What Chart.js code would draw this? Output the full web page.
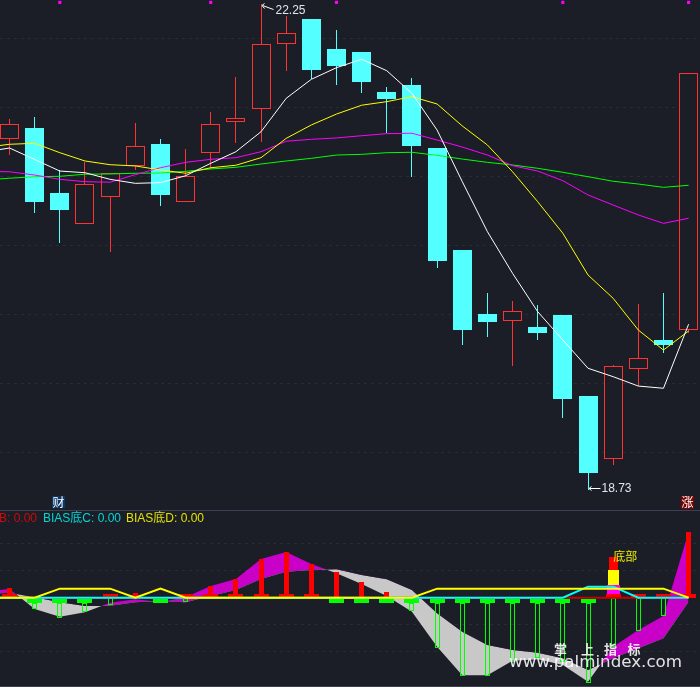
<!DOCTYPE html>
<html>
<head>
<meta charset="utf-8">
<title>K线与BIAS底指标</title>
<script src="https://cdn.jsdelivr.net/npm/chart.js@4/dist/chart.umd.min.js"></script>
<style>
html,body{margin:0;padding:0;background:#1b1e27;width:700px;height:687px;overflow:hidden}
#wrap{position:relative;width:700px;height:687px}
canvas{position:absolute;left:0;display:block}
#main{top:0}
#sub{top:510px}
.rule{position:absolute;left:0;width:700px;height:1px;background:#394153}
</style>
</head>
<body>
<div id="wrap">
<canvas id="main" width="700" height="510"></canvas>
<canvas id="sub" width="700" height="177"></canvas>
<div class="rule" style="top:510px"></div>
<div class="rule" style="top:686px"></div>
</div>
<script>
// Session index. Position 0 is the session just off the left edge (only its averages are known).
const days = [0,1,2,3,4,5,6,7,8,9,10,11,12,13,14,15,16,17,18,19,20,21,22,23,24,25,26,27,28];

const opens  = [null,21.268,21.350,20.879,20.652,20.848,21.077,21.234,20.812,21.167,21.391,21.486,21.957,22.140,21.920,21.901,21.611,21.662,21.205,20.466,20.002,19.954,19.908,19.995,19.408,18.954,19.601,19.814,19.888];
const highs  = [null,21.415,21.430,21.046,21.106,21.022,21.386,21.270,21.198,21.466,21.720,22.250,22.162,22.140,22.060,21.901,21.645,21.712,21.205,20.466,20.154,20.096,20.067,19.995,19.408,19.633,20.075,20.154,21.746];
const lows   = [null,21.154,20.736,20.519,20.652,20.454,21.046,20.785,20.812,21.051,21.241,21.249,21.765,21.703,21.662,21.604,21.312,20.995,20.336,19.778,19.836,19.625,19.814,19.249,18.730,18.908,19.480,19.720,19.864];
const closes = [null,21.377,20.816,20.756,20.942,21.022,21.217,20.865,21.000,21.377,21.420,21.957,22.036,21.772,21.801,21.685,21.560,21.220,20.386,19.886,19.944,20.022,19.864,19.386,18.850,19.623,19.681,19.778,21.746];

const ma5  = [21.176,21.205,21.122,21.038,21.026,20.978,20.949,20.954,21.004,21.094,21.178,21.323,21.565,21.703,21.787,21.848,21.765,21.601,21.335,20.962,20.599,20.297,20.019,19.814,19.609,19.548,19.480,19.464,19.928];
const ma10 = [21.209,21.232,21.239,21.171,21.111,21.084,21.075,21.046,21.022,21.062,21.080,21.135,21.275,21.372,21.451,21.515,21.541,21.577,21.524,21.365,21.227,21.033,20.816,20.587,20.285,20.116,19.886,19.741,19.879];
const ma20 = [21.035,21.033,21.009,20.978,20.961,20.957,21.012,21.062,21.101,21.123,21.135,21.178,21.254,21.268,21.278,21.294,21.309,21.312,21.263,21.212,21.154,21.077,21.038,20.968,20.865,20.792,20.720,20.659,20.696];
const ma60 = [20.973,20.986,20.997,21.000,21.015,21.017,21.022,21.024,21.036,21.053,21.065,21.089,21.111,21.130,21.154,21.159,21.171,21.174,21.152,21.125,21.101,21.082,21.058,21.029,20.997,20.964,20.944,20.920,20.935];
const flagMarks = [null,null,null,22.26,null,null,null,null,null,22.26,null,null,null,null,22.26,null,null,null,null,null,null,null,null,22.26,null,null,null,null,22.26];

const priceTicks = [22,21.5,21,20.5,20,19.5,19];
const priceMin = 18.5819, priceMax = 22.2775;

// Lower indicator, in indicator units
const biasFast = [18,26,-34,-57,-44,-15,-5,-13,1,35,56,116,137,101,73,41,5,-42,-147,-233,-233,-189,-185,-202,-252,-147,-97,-55,198];
const biasSlow = [11,15,1,-14,-25,-24,-14,-10,-14,5,23,56,78,83,85,68,55,23,-47,-102,-142,-157,-165,-182,-217,-182,-152,-122,-12];
const biasB = [0,0,0,0,0,0,0,0,0,0,0,0,0,0,0,0,0,0,0,0,0,0,0,0,0,0,0,0,0];
const biasC = [0,0,0,0,0,0,0,0,0,0,0,0,0,0,0,0,0,0,0,0,0,0,0,0,33,33,0,0,0];
const biasD = [0,0,0,27,27,27,0,27,0,0,0,0,0,0,0,0,0,0,27,27,27,27,27,27,27,27,27,27,0];
const redStick   = [null,28,null,null,null,null,13,null,null,35,56,116,137,101,77,46,17,null,null,null,null,null,null,null,null,null,null,null,197];
const redCap     = [null,11,null,null,null,11,7,null,11,11,11,11,11,11,null,null,null,null,null,null,null,null,null,null,null,11,11,11,11];
const greenCap   = [null,null,1,1,1,null,null,1,null,null,null,null,null,null,1,1,1,1,1,1,1,1,1,1,1,null,null,null,null];
const greenStick = [null,null,-34,-60,-42,-22,null,null,-12,null,null,null,null,null,null,null,null,-39,-150,-234,-234,-194,-180,-192,-257,-147,-99,-54,null];
const signalBase = [null,null,null,null,null,null,null,null,null,null,null,null,null,null,null,null,null,null,null,null,null,null,null,null,null,38,null,null,null];
const signalMid  = [null,null,null,null,null,null,null,null,null,null,null,null,null,null,null,null,null,null,null,null,null,null,null,null,null,83,null,null,null];
const signalTop  = [null,null,null,null,null,null,null,null,null,null,null,null,null,null,null,null,null,null,null,null,null,null,null,null,null,121,null,null,null];
const indicatorTicks = [162,81,-81,-162];
const indicatorMin = -268, indicatorMax = 263;

const legendB = 'B: 0.00', legendC = 'BIAS底C: 0.00', legendD = 'BIAS底D: 0.00';
const signalText = '底部', highText = '22.25', lowText = '18.73';
const watermarkChars = ['掌','上','指','标'], watermarkUrl = 'www.palmindex.com';

const BG = '#1b1e27', RED = '#ff3232', CYAN = '#54ffff';
const xMin = 0.6211, xMax = 28.4530;

const pts = (arr, f) => arr.map((v,k)=> v==null ? null : {x:days[k], y:f?f(v,k):v}).filter(Boolean);
const candleIdx = opens.map((v,k)=>v==null?-1:k).filter(k=>k>=0);
const upIdx = candleIdx.filter(k=>closes[k]>=opens[k]);
const dnIdx = candleIdx.filter(k=>closes[k]<opens[k]);
const barPts = (idx, lo, hi) => idx.map(k=>({x:days[k], y:[lo[k],hi[k]]}));

const snapBars = {
  id:'snapBars',
  beforeDatasetsDraw(chart){
    chart.getSortedVisibleDatasetMetas().forEach(m=>{
      if(m.type!=='bar') return;
      m.data.forEach(el=>{
        el.x = Math.floor(el.x)+0.5;
        el.y = Math.round(el.y);
        el.base = Math.round(el.base);
      });
    });
  }
};

function barSet(data, w, color, border, order){
  return {type:'bar', data, grouped:false, barPercentage:1, categoryPercentage:1,
    maxBarThickness:w, barThickness:w, backgroundColor:color, borderColor:border||color,
    borderWidth:border?1:0, borderSkipped:false, inflateAmount:0, order};
}
function lineSet(arr, color, width, order){
  return {type:'line', data:pts(arr), borderColor:color, borderWidth:width, pointRadius:0,
    tension:0, fill:false, order, spanGaps:false};
}
function axes(min,max,ticks){
  return {
    x:{type:'linear',min:xMin,max:xMax,display:false,offset:false},
    y:{type:'linear',min,max,position:'left',
      afterBuildTicks(s){s.ticks=ticks.map(value=>({value}));},
      ticks:{display:false},
      grid:{color:'#292c35',lineWidth:1,drawTicks:false,tickLength:0},
      border:{display:false,dash:[3,4]}}
  };
}
const base = {responsive:false,animation:false,maintainAspectRatio:false,
  layout:{padding:0,autoPadding:false},events:[],
  plugins:{legend:{display:false},tooltip:{enabled:false}}};

const mainText = {
  id:'mainText',
  afterDraw(chart){
    const c=chart.ctx, X=chart.scales.x, Y=chart.scales.y;
    const hiK=highs.indexOf(Math.max(...highs.filter(v=>v!=null)));
    const loK=lows.indexOf(Math.min(...lows.filter(v=>v!=null)));
    const hx=Math.floor(X.getPixelForValue(days[hiK]))+0.5, hy=Math.round(Y.getPixelForValue(highs[hiK]))+1.5;
    const lx=Math.floor(X.getPixelForValue(days[loK]))+0.5, ly=Math.round(Y.getPixelForValue(lows[loK]))-1.5;
    c.save();
    c.strokeStyle='#ffffff'; c.lineWidth=1;
    c.beginPath();
    c.moveTo(hx+1,hy); c.lineTo(hx+12,hy+4);
    c.moveTo(hx+3,hy-2); c.lineTo(hx+0.5,hy); c.lineTo(hx+3,hy+3);
    c.moveTo(lx+1,ly); c.lineTo(lx+12,ly);
    c.moveTo(lx+3,ly-2); c.lineTo(lx+0.5,ly); c.lineTo(lx+3,ly+2);
    c.stroke();
    c.font='12px "Liberation Sans"';
    c.fillStyle='#dfe6ee'; c.textBaseline='alphabetic'; c.textAlign='left';
    c.fillText(highText,hx+14,14);
    c.fillText(lowText,lx+13,492);
    c.fillStyle='#0b3766'; c.fillRect(52,496,13,12);
    c.fillStyle='#ffffff'; c.font='12px "Noto Sans CJK SC"';
    c.fillText('财',52.5,506.5);
    c.fillStyle='#780404'; c.fillRect(681,496,13,13);
    c.fillStyle='#ffffff'; c.fillText('涨',681.5,507);
    c.restore();
  }
};

const subText = {
  id:'subText',
  afterDraw(chart){
    const c=chart.ctx, X=chart.scales.x, Y=chart.scales.y;
    c.save();
    c.textBaseline='alphabetic';
    c.font='12px "Liberation Sans","Noto Sans CJK SC"';
    c.textAlign='right'; c.fillStyle='#cc0a0a'; c.fillText(legendB,37,12);
    c.textAlign='left'; c.fillStyle='#00d8d8'; c.fillText(legendC,43,12);
    c.fillStyle='#e2e200'; c.fillText(legendD,126,12);
    const k=signalTop.findIndex(v=>v!=null);
    c.textAlign='center'; c.font='12px "Noto Sans CJK SC"'; c.fillStyle='#eaea00';
    c.fillText(signalText,X.getPixelForValue(days[k])+12,Y.getPixelForValue(signalTop[k])+4);
    c.textAlign='left'; c.fillStyle='rgba(255,255,255,0.88)';
    c.font='bold 13px "Noto Sans CJK SC"';
    [554,581,604,627.5].forEach((x,i)=>c.fillText(watermarkChars[i],x,144));
    c.font='16.7px "DejaVu Sans"';
    c.fillText(watermarkUrl,509,157);
    c.restore();
  }
};

new Chart(document.getElementById('main'),{
  type:'bar',
  data:{datasets:[
    barSet(barPts(dnIdx,lows,highs),1,CYAN,null,9),
    barSet(barPts(upIdx,lows,highs),1,RED,null,9),
    barSet(barPts(dnIdx,closes,opens),19,CYAN,null,8),
    barSet(barPts(upIdx,opens,closes),19,BG,RED,8),
    lineSet(ma60,'#00ff00',1,5),
    lineSet(ma20,'#ff00ff',1,4),
    lineSet(ma10,'#ffff00',1,3),
    lineSet(ma5,'#ffffff',1,2),
    {type:'line',data:pts(flagMarks),showLine:false,pointStyle:'rect',pointRadius:2.2,
      pointBackgroundColor:'#ff00ff',pointBorderWidth:0,order:1}
  ]},
  options:{...base,scales:axes(priceMin,priceMax,priceTicks)},
  plugins:[snapBars,mainText]
});

new Chart(document.getElementById('sub'),{
  type:'bar',
  data:{datasets:[
    {type:'line',data:pts(biasFast),borderWidth:0,pointRadius:0,tension:0,order:20,
      fill:{target:1,above:'#c800c8',below:'#c8c8c8'}},
    {type:'line',data:pts(biasSlow),borderWidth:0,pointRadius:0,tension:0,order:20,fill:false},
    barSet(redStick.map((v,k)=>v==null?null:{x:days[k],y:[0,v]}).filter(Boolean),5,'#ff0000',null,15),
    barSet(greenStick.map((v,k)=>v==null?null:{x:days[k],y:[greenCap[k]?-16:-2,v]}).filter(Boolean),5,'rgba(0,0,0,0)','#00ff00',14),
    barSet(signalBase.map((v,k)=>v==null?null:{x:days[k],y:[0,v]}).filter(Boolean),13,'#ff00ff',null,13),
    barSet(signalMid.map((v,k)=>v==null?null:{x:days[k],y:[signalBase[k],v]}).filter(Boolean),11,'#ffff00',null,12),
    barSet(signalTop.map((v,k)=>v==null?null:{x:days[k],y:[signalMid[k],v]}).filter(Boolean),9,'#ff0000',null,11),
    barSet(redCap.map((v,k)=>v==null?null:{x:days[k],y:[0,v]}).filter(Boolean),15,'#ff0000',null,10),
    barSet(greenCap.map((v,k)=>v==null?null:{x:days[k],y:[-16,-4]}).filter(Boolean),15,'#00ff00',null,9),
    lineSet(biasB,'#c80000',2,5),
    lineSet(biasC,'#00ffff',2,4),
    lineSet(biasD,'#ffff00',2,3)
  ]},
  options:{...base,scales:axes(indicatorMin,indicatorMax,indicatorTicks)},
  plugins:[snapBars,subText]
});
</script>
</body>
</html>
